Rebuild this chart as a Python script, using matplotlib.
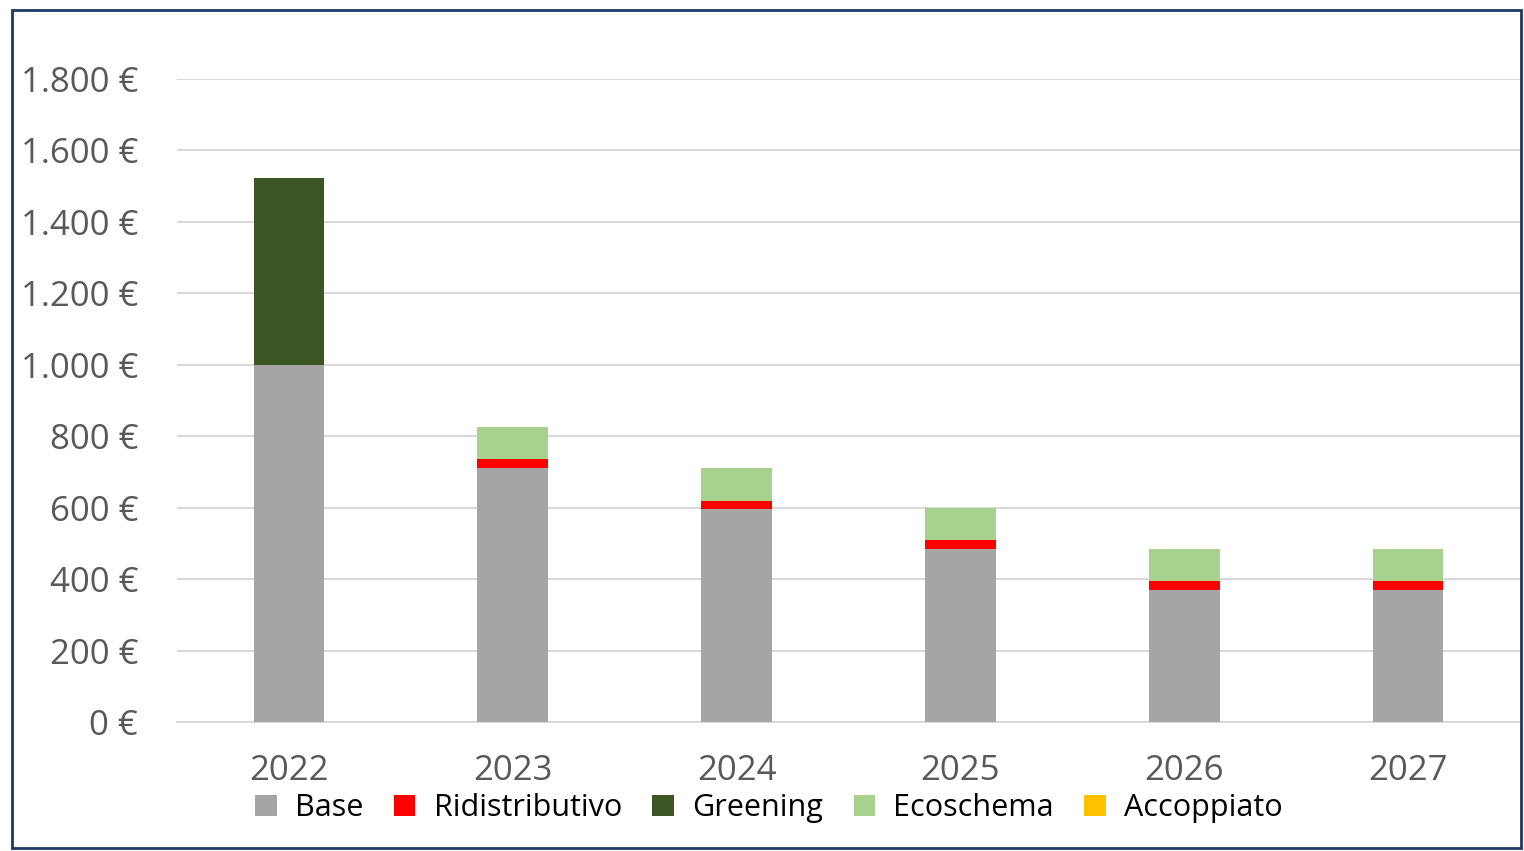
import matplotlib
matplotlib.use("Agg")
import matplotlib.pyplot as plt
from matplotlib.patches import Rectangle
import numpy as np

years = ["2022", "2023", "2024", "2025", "2026", "2027"]
base = [1000, 712, 597, 485, 369, 369]
ridistributivo = [0, 25, 23, 24, 25, 25]
greening = [522, 0, 0, 0, 0, 0]
ecoschema = [0, 90, 90, 90, 90, 90]
accoppiato = [0, 0, 0, 0, 0, 0]
yticks = [0, 200, 400, 600, 800, 1000, 1200, 1400, 1600, 1800]

series = [("Base", base, "#A5A5A5"),
          ("Ridistributivo", ridistributivo, "#FF0000"),
          ("Greening", greening, "#3B5523"),
          ("Ecoschema", ecoschema, "#A9D18E"),
          ("Accoppiato", accoppiato, "#FFC000")]

fig = plt.figure(figsize=(15.24, 8.51), dpi=100)
ax = fig.add_axes([177/1524, (851-722)/851, (1520-177)/1524, (722-79)/851])

x = np.arange(len(years))
bottom = np.zeros(len(years))
handles = []
for name, vals, col in series:
    v = np.array(vals, dtype=float)
    h = ax.bar(x, v, width=0.315, bottom=bottom, color=col, label=name, zorder=3)
    bottom += v
    handles.append(h)

ax.set_xlim(-0.5, 5.5)
ax.set_ylim(0, 1800)
ax.set_yticks(yticks)
ax.set_yticklabels([f"{v:,}".replace(",", ".") + " €" for v in yticks])
ax.set_xticks(x)
ax.set_xticklabels(years)
ax.grid(axis="y", color="#D9D9D9", linewidth=1.5, zorder=0)
for s in ["top", "right", "left"]:
    ax.spines[s].set_visible(False)
ax.spines["bottom"].set_color("#D9D9D9")
ax.spines["bottom"].set_linewidth(1.5)
ax.tick_params(axis="both", length=0, labelsize=25, colors="#595959")
ax.tick_params(axis="y", pad=28)
ax.tick_params(axis="x", pad=23)
for lab in ax.get_xticklabels() + ax.get_yticklabels():
    lab.set_family("Open Sans")

leg = fig.legend(handles=handles, loc="center", bbox_to_anchor=(769/1524, 1-808/851),
                 ncol=5, frameon=False, handlelength=0.7, handleheight=0.7,
                 handletextpad=0.6, columnspacing=1.0,
                 prop={"family": "Open Sans", "size": 22})

fig.patches.append(Rectangle((12/1524, 1-848/851), (1521-12)/1524, (848-10)/851,
                             transform=fig.transFigure, fill=False,
                             edgecolor="#1F3864", linewidth=2))

fig.savefig("out.png", dpi=100)
